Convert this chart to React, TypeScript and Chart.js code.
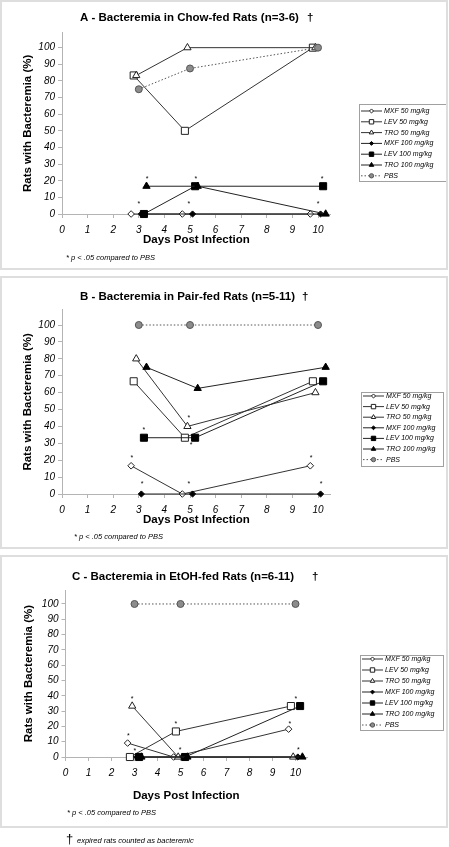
import React, { useEffect, useRef } from 'react';
import { Chart, registerables } from 'chart.js';

Chart.register(...registerables);

const FONT = '"Liberation Sans", Arial, Helvetica, sans-serif';

// ---------- series labels ----------
const seriesLabels = [
  'MXF 50 mg/kg',
  'LEV 50 mg/kg',
  'TRO 50 mg/kg',
  'MXF 100 mg/kg',
  'LEV 100 mg/kg',
  'TRO 100 mg/kg',
  'PBS',
];

// ---------- x positions (days post infection, staggered around 3, 5, 10) ----------
const xMXF50 = [2.7, 4.7, 9.7];
const xLEV50 = [2.8, 4.8, 9.8];
const xTRO50 = [2.9, 4.9, 9.9];
const xMXF100 = [3.1, 5.1, 10.1];
const xLEV100 = [3.2, 5.2, 10.2];
const xTRO100 = [3.3, 5.3, 10.3];
const xPBS = [3, 5, 10];

const xTickValues = [0, 1, 2, 3, 4, 5, 6, 7, 8, 9, 10];
const yTickValues = [0, 10, 20, 30, 40, 50, 60, 70, 80, 90, 100];

// ---------- Panel A: Chow-fed ----------
const chowMXF50 = [0, 0, 0];
const chowLEV50 = [83.3, 50, 100];
const chowTRO50 = [83.3, 100, 100];
const chowMXF100 = [0, 0, 0];
const chowLEV100 = [0, 16.7, 16.7];
const chowTRO100 = [16.7, 16.7, 0];
const chowPBS = [75, 87.5, 100];
const chowStars = [[3.32, 22], [3.0, 6.6], [5.23, 22], [4.96, 6.6], [10.16, 22], [10.0, 6.6]];

// ---------- Panel B: Pair-fed ----------
const pairMXF50 = [16.7, 0, 16.7];
const pairLEV50 = [66.7, 33.3, 66.7];
const pairTRO50 = [80, 40, 60];
const pairMXF100 = [0, 0, 0];
const pairLEV100 = [33.3, 33.3, 66.7];
const pairTRO100 = [75, 62.5, 75];
const pairPBS = [100, 100, 100];
const pairStars = [[3.2, 39], [4.96, 45.6], [5.04, 29.6], [2.73, 21.9], [9.73, 21.9], [3.13, 6.5], [4.96, 6.5], [10.12, 6.5]];

// ---------- Panel C: EtOH-fed ----------
const etohMXF50 = [9.1, 0, 18.2];
const etohLEV50 = [0, 16.7, 33.3];
const etohTRO50 = [33.3, 0, 0];
const etohMXF100 = [0, 0, 0];
const etohLEV100 = [0, 0, 33.3];
const etohTRO100 = [0, 0, 0];
const etohPBS = [100, 100, 100];
const etohStars = [[2.9, 39], [2.73, 14.8], [3.02, 5], [4.8, 22.4], [4.98, 5.7], [9.76, 22.4], [10.02, 39], [10.12, 5.7]];

const seriesX = [xMXF50, xLEV50, xTRO50, xMXF100, xLEV100, xTRO100, xPBS];

// ---------- styles ----------
const seriesStyles = [
  { pointStyle: 'rectRot', r: 3.3, fill: '#ffffff', stroke: '#222', line: '#333', dash: [] as number[] },
  { pointStyle: 'rect', r: 5, fill: '#ffffff', stroke: '#222', line: '#333', dash: [] as number[] },
  { pointStyle: 'triangle', r: 4.2, fill: '#ffffff', stroke: '#222', line: '#333', dash: [] as number[] },
  { pointStyle: 'rectRot', r: 3.1, fill: '#000000', stroke: '#000', line: '#222', dash: [] as number[] },
  { pointStyle: 'rect', r: 5, fill: '#000000', stroke: '#000', line: '#222', dash: [] as number[] },
  { pointStyle: 'triangle', r: 4.2, fill: '#000000', stroke: '#000', line: '#222', dash: [] as number[] },
  { pointStyle: 'circle', r: 3.5, fill: '#8c8c8c', stroke: '#555', line: '#555', dash: [1.5, 2] },
];

type PanelCfg = {
  title: string;
  titleX: number;
  titleY: number;
  daggerX: number;
  values: number[][];
  stars: number[][];
  canvasTop: number;
  canvasH: number;
  chartTop: number;
  chartBottom: number;
  chartLeft: number;
  chartRight: number;
  xTitlePad: number;
  yTitlePad: number;
  noteX: number;
  noteY: number;
  legend: { x: number; y: number; w: number; h: number; row0: number; step: number };
};

const panels: PanelCfg[] = [
  {
    title: 'A - Bacteremia in Chow-fed Rats (n=3-6)',
    titleX: 80, titleY: 18, daggerX: 307,
    values: [chowMXF50, chowLEV50, chowTRO50, chowMXF100, chowLEV100, chowTRO100, chowPBS],
    stars: chowStars,
    canvasTop: 0, canvasH: 270,
    chartTop: 32.7, chartBottom: 214, chartLeft: 62, chartRight: 330.8,
    xTitlePad: 23.1, yTitlePad: 21.1,
    noteX: 66, noteY: 258,
    legend: { x: 359, y: 104, w: 87, h: 77, row0: 111, step: 10.8 },
  },
  {
    title: 'B - Bacteremia in Pair-fed Rats (n=5-11)',
    titleX: 80, titleY: 20, daggerX: 302,
    values: [pairMXF50, pairLEV50, pairTRO50, pairMXF100, pairLEV100, pairTRO100, pairPBS],
    stars: pairStars,
    canvasTop: 277, canvasH: 271,
    chartTop: 32.8, chartBottom: 217, chartLeft: 62, chartRight: 330.8,
    xTitlePad: 21.1, yTitlePad: 21.1,
    noteX: 74, noteY: 260,
    legend: { x: 361, y: 115, w: 82, h: 74, row0: 119, step: 10.6 },
  },
  {
    title: 'C - Bacteremia in EtOH-fed Rats (n=6-11)',
    titleX: 72, titleY: 21, daggerX: 312,
    values: [etohMXF50, etohLEV50, etohTRO50, etohMXF100, etohLEV100, etohTRO100, etohPBS],
    stars: etohStars,
    canvasTop: 556, canvasH: 271,
    chartTop: 34.2, chartBottom: 201, chartLeft: 65.5, chartRight: 307,
    xTitlePad: 24.1, yTitlePad: 22.1,
    noteX: 67, noteY: 257,
    legend: { x: 360, y: 99, w: 83, h: 75, row0: 103, step: 11 },
  },
];

function drawMarker(ctx: CanvasRenderingContext2D, style: string, x: number, y: number, r: number, fill: string, stroke: string) {
  ctx.beginPath();
  if (style === 'circle') {
    ctx.arc(x, y, r, 0, Math.PI * 2);
  } else if (style === 'rect') {
    const s = Math.SQRT1_2 * r;
    ctx.rect(x - s, y - s, 2 * s, 2 * s);
  } else if (style === 'rectRot') {
    ctx.moveTo(x - r, y);
    ctx.lineTo(x, y - r);
    ctx.lineTo(x + r, y);
    ctx.lineTo(x, y + r);
    ctx.closePath();
  } else if (style === 'triangle') {
    ctx.moveTo(x, y - r);
    ctx.lineTo(x + 0.866 * r, y + r / 2);
    ctx.lineTo(x - 0.866 * r, y + r / 2);
    ctx.closePath();
  }
  ctx.fillStyle = fill;
  ctx.fill();
  ctx.strokeStyle = stroke;
  ctx.lineWidth = 1;
  ctx.setLineDash([]);
  ctx.stroke();
}

const decorPlugin = {
  id: 'decor',
  afterDraw(chart: any, _args: any, o: any) {
    const ctx: CanvasRenderingContext2D = chart.ctx;
    const xs = chart.scales.x;
    const ys = chart.scales.y;
    ctx.save();
    ctx.fillStyle = '#000';
    ctx.textBaseline = 'middle';
    ctx.textAlign = 'left';
    ctx.font = `bold 11.5px ${FONT}`;
    ctx.fillText(o.title, o.titleX, o.titleY);
    ctx.fillText('†', o.daggerX, o.titleY);

    ctx.font = `7px ${FONT}`;
    ctx.textAlign = 'center';
    (o.stars as number[][]).forEach(([sx, sy]) => {
      ctx.fillText('*', xs.getPixelForValue(sx), ys.getPixelForValue(sy) + 1.5);
    });

    ctx.font = `italic 7.5px ${FONT}`;
    ctx.textAlign = 'left';
    ctx.fillText('* p < .05 compared to PBS', o.noteX, o.noteY);

    const lg = o.legend;
    ctx.fillStyle = '#fff';
    ctx.fillRect(lg.x, lg.y, lg.w, lg.h);
    ctx.strokeStyle = '#a0a0a0';
    ctx.lineWidth = 1;
    ctx.strokeRect(lg.x + 0.5, lg.y + 0.5, lg.w, lg.h);
    seriesLabels.forEach((label, i) => {
      const st = seriesStyles[i];
      const yy = lg.row0 + i * lg.step;
      ctx.beginPath();
      ctx.setLineDash(st.dash.length ? [1.5, 2] : []);
      ctx.strokeStyle = st.line;
      ctx.lineWidth = 1;
      ctx.moveTo(lg.x + 2, yy);
      ctx.lineTo(lg.x + 23, yy);
      ctx.stroke();
      drawMarker(ctx, st.pointStyle, lg.x + 12.5, yy, st.r * 0.62, st.fill, st.stroke);
      ctx.fillStyle = '#000';
      ctx.font = `italic 7px ${FONT}`;
      ctx.textAlign = 'left';
      ctx.textBaseline = 'middle';
      ctx.fillText(label, lg.x + 25, yy);
    });
    ctx.restore();
  },
};

function Panel({ cfg }: { cfg: PanelCfg }) {
  const ref = useRef<HTMLCanvasElement>(null);
  useEffect(() => {
    const tickFont = { family: FONT, size: 10, style: 'italic' as const };
    const titleFont = { family: FONT, size: 11.5, weight: 'bold' as const };
    const chart = new Chart(ref.current!, {
      type: 'scatter',
      data: {
        datasets: cfg.values.map((vals, i) => {
          const st = seriesStyles[i];
          return {
            label: seriesLabels[i],
            data: vals.map((v, j) => ({ x: seriesX[i][j], y: v })),
            showLine: true,
            borderColor: st.line,
            borderWidth: 1,
            borderDash: st.dash,
            pointStyle: st.pointStyle as any,
            pointRadius: st.r,
            pointBackgroundColor: st.fill,
            pointBorderColor: st.stroke,
            pointBorderWidth: 1,
            order: 10 - i,
            clip: false as any,
          };
        }),
      },
      options: {
        animation: false,
        responsive: false,
        events: [],
        layout: {
          padding: { left: 0, top: cfg.chartTop, right: 449 - cfg.chartRight, bottom: 0 },
        },
        plugins: {
          legend: { display: false },
          tooltip: { enabled: false },
          title: { display: false },
          decor: {
            title: cfg.title,
            titleX: cfg.titleX,
            titleY: cfg.titleY,
            daggerX: cfg.daggerX,
            stars: cfg.stars,
            noteX: cfg.noteX,
            noteY: cfg.noteY,
            legend: cfg.legend,
          },
        } as any,
        scales: {
          x: {
            type: 'linear',
            min: 0,
            max: 10.5,
            afterBuildTicks: (s: any) => {
              s.ticks = xTickValues.map((v) => ({ value: v }));
            },
            afterFit: (s: any) => {
              s.height = cfg.canvasH - cfg.chartBottom;
            },
            ticks: { font: tickFont, color: '#000', padding: 6, maxRotation: 0, autoSkip: false },
            grid: { drawOnChartArea: false, drawTicks: true, tickLength: 4, color: '#b4b4b4' },
            border: { display: true, color: '#b4b4b4', width: 1 },
            title: {
              display: true,
              text: 'Days Post Infection',
              font: titleFont,
              color: '#000',
              padding: { top: 0, bottom: cfg.xTitlePad },
            },
          },
          y: {
            type: 'linear',
            min: 0,
            max: 109,
            afterBuildTicks: (s: any) => {
              s.ticks = yTickValues.map((v) => ({ value: v }));
            },
            afterFit: (s: any) => {
              s.width = cfg.chartLeft;
            },
            ticks: { font: tickFont, color: '#000', padding: 3, autoSkip: false },
            grid: { drawOnChartArea: false, drawTicks: true, tickLength: 4, color: '#b4b4b4' },
            border: { display: true, color: '#b4b4b4', width: 1 },
            title: {
              display: true,
              text: 'Rats with Bacteremia (%)',
              font: titleFont,
              color: '#000',
              padding: { top: cfg.yTitlePad, bottom: 0 },
            },
          },
        },
      },
      plugins: [decorPlugin],
    });
    return () => chart.destroy();
  }, [cfg]);
  return (
    <canvas
      ref={ref}
      width={449}
      height={cfg.canvasH}
      style={{ position: 'absolute', left: 0, top: cfg.canvasTop, width: 449, height: cfg.canvasH }}
    />
  );
}

const frames = [
  { top: 0, height: 270 },
  { top: 276, height: 273 },
  { top: 555, height: 273 },
];

export default function App() {
  return (
    <div style={{ position: 'absolute', left: 0, top: 0, width: 449, height: 847, background: '#fff', overflow: 'hidden' }}>
      {panels.map((p, i) => (
        <Panel key={i} cfg={p} />
      ))}
      {frames.map((f, i) => (
        <div
          key={'f' + i}
          style={{
            position: 'absolute',
            left: 0,
            top: f.top,
            width: 448,
            height: f.height,
            border: '2px solid #dedede',
            boxSizing: 'border-box',
            pointerEvents: 'none',
          }}
        />
      ))}
      <div style={{ position: 'absolute', left: 66, top: 831, fontFamily: FONT, fontSize: 13, lineHeight: '16px', color: '#000' }}>†</div>
      <div
        style={{
          position: 'absolute',
          left: 77,
          top: 836,
          fontFamily: FONT,
          fontSize: 7.5,
          fontStyle: 'italic',
          lineHeight: '10px',
          color: '#000',
          whiteSpace: 'nowrap',
        }}
      >
        expired rats counted as bacteremic
      </div>
    </div>
  );
}
